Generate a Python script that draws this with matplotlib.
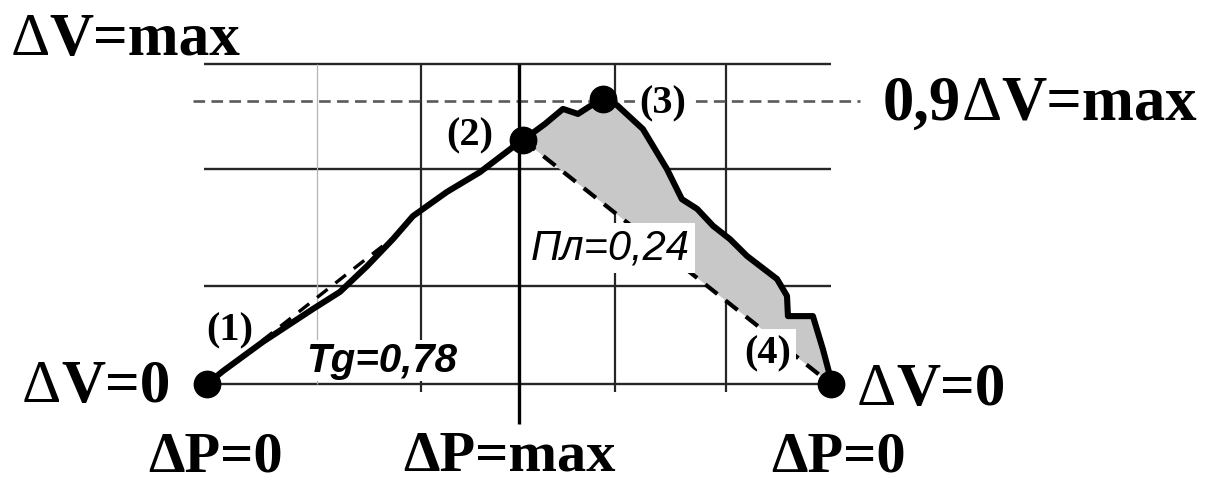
import numpy as np
import matplotlib.pyplot as plt

# rising branch of dV(t): point (1) -> point (2)
rise_t = [0.0, 0.051, 0.179, 0.340, 0.426, 0.513, 0.596, 0.660, 0.769, 0.875, 0.981, 1.013]
rise_v = [0.0, 0.041, 0.134, 0.239, 0.293, 0.375, 0.461, 0.534, 0.611, 0.674, 0.754, 0.776]

# falling branch: point (2) -> (3) -> (4)
fall_t = [1.013, 1.083, 1.141, 1.189, 1.228, 1.269, 1.314, 1.397, 1.474, 1.522, 1.571,
          1.622, 1.676, 1.731, 1.827, 1.859, 1.862, 1.942, 1.974, 1.997, 2.0]
fall_v = [0.776, 0.827, 0.875, 0.859, 0.884, 0.906, 0.887, 0.811, 0.684, 0.588, 0.557,
          0.503, 0.461, 0.407, 0.334, 0.280, 0.216, 0.216, 0.111, 0.025, 0.0]

tg = 0.78              # slope of the tangent at (1)
tan_t = np.array([0.0, 0.59])
level = 0.9            # 0,9 dV max

v_grid = [0.0, 0.312, 0.684, 1.018]
t_grid = [0.686, 1.308, 1.663]

SERIF = 'Liberation Serif'
SANS = 'Liberation Sans'

fig = plt.figure(figsize=(12.32, 4.85), dpi=100)
ax = fig.add_axes([0, 0, 1, 1])
ax.set_xlim(-0.6635, 3.2853)
ax.set_ylim(-0.318, 1.2246)
ax.axis('off')

# grid
ax.hlines(v_grid, -0.01, 2.0, color='#262626', lw=1.7, zorder=1)
ax.vlines(0.353, 0.0, 1.018, color='#b4b4b4', lw=0.9, zorder=1)
ax.vlines(t_grid, -0.025, 1.018, color='#262626', lw=1.6, zorder=1)
ax.vlines(1.0, -0.127, 1.018, color='black', lw=2.4, zorder=3.6)

ax.plot([-0.045, 2.093], [level, level], color='#5a5a5a', lw=1.9,
        dashes=(4.4, 2.4), zorder=1.5)

# shaded area between the curve and the chord (2)-(4)
ax.fill(fall_t, fall_v, color='#c8c8c8', lw=0, zorder=2)
ax.plot([fall_t[0], fall_t[-1]], [fall_v[0], fall_v[-1]], color='black', lw=3.0,
        dashes=(3.7, 2.5), zorder=3)
ax.plot(tan_t, tg * tan_t, color='black', lw=2.4, dashes=(4, 3), zorder=3)

curve_t = rise_t + fall_t[1:]
curve_v = rise_v + fall_v[1:]
ax.plot(curve_t, curve_v, color='black', lw=4.4, solid_joinstyle='round',
        solid_capstyle='round', zorder=4)

peak = int(np.argmax(fall_v))
ax.plot([rise_t[0], fall_t[0], fall_t[peak], fall_t[-1]],
        [rise_v[0], fall_v[0], fall_v[peak], fall_v[-1]],
        'o', color='black', ms=19, zorder=5)

# numbered points
box = dict(boxstyle='square,pad=0.12', fc='white', ec='none')
for s, x, y in [('(1)', 0.074, 0.143), ('(2)', 0.843, 0.763),
                ('(3)', 1.462, 0.865), ('(4)', 1.798, 0.070)]:
    ax.text(x, y, s, family=SERIF, fontweight='bold', fontsize=29,
            ha='center', va='baseline', bbox=box, zorder=3.5)

ax.text(1.292, 0.398, 'Пл=0,24', family=SANS, style='italic', fontsize=30,
        ha='center', va='baseline', zorder=3.5,
        bbox=dict(boxstyle='square,pad=0.12', fc='white', ec='none'))
ax.text(0.561, 0.041, 'Tg=0,78', family=SANS, style='italic', fontweight='bold',
        fontsize=29, ha='center', va='baseline', zorder=3.5,
        bbox=dict(boxstyle='square,pad=0.04', fc='white', ec='none'))


def split_label(x, y, parts, size=44):
    t = ax.text(x, y, parts[0][0], family=SERIF, fontweight=parts[0][1],
                fontsize=size, ha='left', va='baseline')
    for s, w in parts[1:]:
        t = ax.annotate(s, xy=(1, 0), xycoords=t, family=SERIF, fontweight=w,
                        fontsize=size, ha='left', va='bottom')


split_label(-0.631, 1.050, [('Δ', 'normal'), ('V=max', 'bold')])
split_label(2.167, 0.843, [('0,9', 'bold'), ('Δ', 'normal'), ('V=max', 'bold')], size=45)
split_label(-0.593, -0.054, [('Δ', 'normal'), ('V=0', 'bold')])
split_label(2.083, -0.064, [('Δ', 'normal'), ('V=0', 'bold')])

for s, x, y in [('ΔP=0', 0.026, -0.274), ('ΔP=max', 0.968, -0.272), ('ΔP=0', 2.024, -0.274)]:
    ax.text(x, y, s, family=SERIF, fontweight='bold', fontsize=42,
            ha='center', va='baseline')

fig.savefig('out.png', dpi=100)
